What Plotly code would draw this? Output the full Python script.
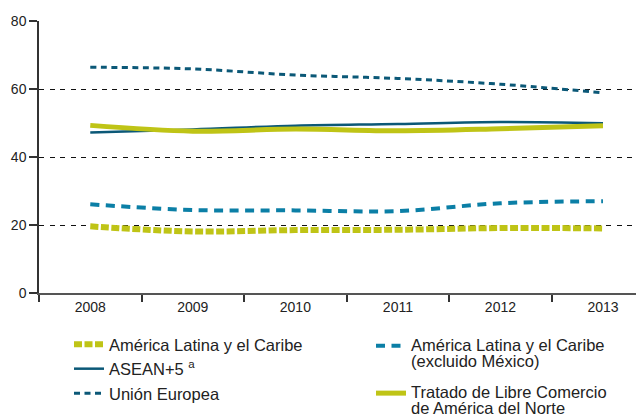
import plotly.graph_objects as go

years = ["2008", "2009", "2010", "2011", "2012", "2013"]
alc = [19.6, 18.1, 18.5, 18.6, 19.1, 19.0]
alc_sin_mex = [26.1, 24.4, 24.3, 24.1, 26.4, 27.0]
asean5 = [47.2, 48.1, 49.2, 49.7, 50.3, 49.9]
ue = [66.4, 65.9, 64.1, 63.1, 61.4, 58.9]
tlcan = [49.3, 47.6, 48.2, 47.7, 48.3, 49.2]
y_ticks = [0, 20, 40, 60, 80]

YG = "#bfc416"
TEAL = "#0b5877"
BLUE = "#0b7fa6"
FONT = "Liberation Sans, Arial, sans-serif"

# page body has an 8px margin, so the figure is sized/positioned to compensate
W, H = 636, 408


def big(txt):
    return "<br>".join('<span style="font-size:16.5px">%s</span>' % p for p in txt.split("<br>"))


fig = go.Figure()
fig.add_trace(go.Scatter(x=years, y=alc, name="América Latina y el Caribe", mode="lines",
                         line=dict(color=YG, width=6, dash="8px,2.5px", shape="spline"),
                         legend="legend"))
fig.add_trace(go.Scatter(x=years, y=alc_sin_mex,
                         name=big("América Latina y el Caribe<br>(excluido México)"),
                         mode="lines", line=dict(color=BLUE, width=4, dash="9px,6.5px", shape="spline"),
                         legend="legend2", legendgroup="g1"))
fig.add_trace(go.Scatter(x=years, y=asean5, name="ASEAN+5 <sup>a</sup>", mode="lines",
                         line=dict(color=TEAL, width=2.5, shape="spline"), legend="legend"))
fig.add_trace(go.Scatter(x=years, y=ue, name="Unión Europea", mode="lines",
                         line=dict(color=TEAL, width=3, dash="6px,4.5px", shape="spline"),
                         legend="legend"))
fig.add_trace(go.Scatter(x=years, y=tlcan,
                         name=big("Tratado de Libre Comercio<br>de América del Norte"),
                         mode="lines", line=dict(color=YG, width=5, shape="spline"),
                         legend="legend2", legendgroup="g2"))

legend_common = dict(xref="container", yref="container", xanchor="left", yanchor="top",
                     orientation="v", valign="top", bgcolor="rgba(0,0,0,0)", borderwidth=0)

fig.update_layout(
    width=W, height=H,
    margin=dict(l=31, r=0, t=13, b=123, autoexpand=False),
    paper_bgcolor="white", plot_bgcolor="white",
    font=dict(family=FONT, color="#222"),
    showlegend=True,
    legend=dict(x=61 / W, y=1 - 319 / H, traceorder="normal",
                font=dict(family=FONT, size=16.5, color="#222"), **legend_common),
    legend2=dict(x=363 / W, y=1 - 323 / H, traceorder="grouped", tracegroupgap=12,
                 font=dict(family=FONT, size=12.5, color="#222"), **legend_common),
    xaxis=dict(type="category", range=[-0.5, 5.4], tickson="boundaries",
               ticks="outside", ticklen=7, tickwidth=1.5, tickcolor="#333",
               showline=True, linecolor="#555", linewidth=2, showgrid=False,
               automargin=False,
               tickfont=dict(size=14, color="#222"), fixedrange=True),
    yaxis=dict(range=[0, 80], tickvals=y_ticks, ticks="outside", ticklen=8,
               tickwidth=1.5, tickcolor="#333", showline=True, linecolor="#333",
               linewidth=1.5, showgrid=True, gridcolor="#111", gridwidth=1,
               griddash="5px,5.5px", zeroline=False, automargin=False,
               tickfont=dict(size=14, color="#222"), fixedrange=True),
)

fig.write_html("out.html")
